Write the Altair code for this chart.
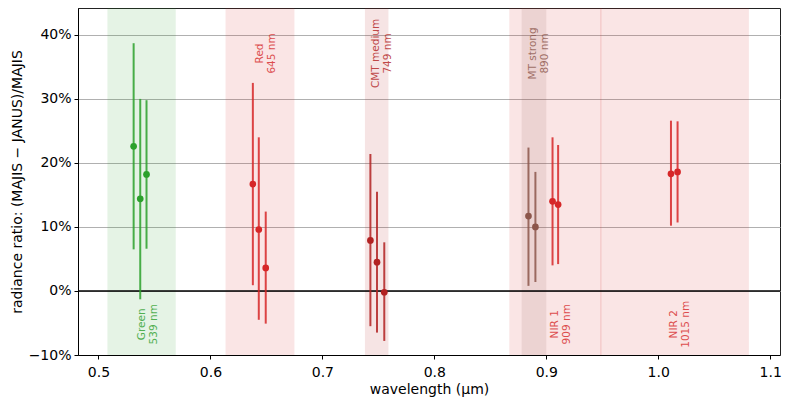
import altair as alt
import pandas as pd

# ---- data ----
green_x = [0.5314, 0.5373, 0.5429]
green_y = [0.226, 0.144, 0.182]
green_lo = [0.065, -0.013, 0.066]
green_hi = [0.387, 0.300, 0.298]

red_x = [0.6379, 0.6432, 0.6494]
red_y = [0.167, 0.096, 0.036]
red_lo = [0.009, -0.045, -0.051]
red_hi = [0.325, 0.240, 0.124]

cmt_x = [0.7429, 0.7488, 0.7553]
cmt_y = [0.079, 0.045, -0.002]
cmt_lo = [-0.055, -0.065, -0.078]
cmt_hi = [0.214, 0.155, 0.076]

mt_x = [0.8841, 0.8903]
mt_y = [0.117, 0.100]
mt_lo = [0.008, 0.014]
mt_hi = [0.224, 0.186]

nir1_x = [0.9056, 0.9106]
nir1_y = [0.140, 0.135]
nir1_lo = [0.040, 0.042]
nir1_hi = [0.240, 0.228]

nir2_x = [1.0114, 1.0173]
nir2_y = [0.183, 0.186]
nir2_lo = [0.102, 0.107]
nir2_hi = [0.266, 0.265]

GREEN = "#2ca02c"
RED = "#d62728"
CMT = "#b22222"
MT = "#8c564b"

band_names = ["Green", "Red", "CMT medium", "NIR 1", "NIR 2", "MT strong"]
band_lo = [0.508, 0.6135, 0.738, 0.867, 0.948, 0.878]
band_hi = [0.569, 0.675, 0.759, 0.9495, 1.081, 0.900]
band_colors = [GREEN, RED, CMT, RED, RED, MT]

label_text = ["Green\n539 nm", "Red\n645 nm", "CMT medium\n749 nm",
              "MT strong\n890 nm", "NIR 1\n909 nm", "NIR 2\n1015 nm"]
label_x = [0.539, 0.644, 0.748, 0.888, 0.908, 1.014]
label_y = [-0.052, 0.371, 0.371, 0.371, -0.052, -0.052]
label_colors = [GREEN, RED, CMT, MT, RED, RED]

x_ticks = [0.5, 0.6, 0.7, 0.8, 0.9, 1.0, 1.1]
y_ticks = [-0.1, 0.0, 0.1, 0.2, 0.3, 0.4]

# ---- tables ----
rows = []
for col, xs, ys, los, his in [
    (GREEN, green_x, green_y, green_lo, green_hi),
    (RED, red_x, red_y, red_lo, red_hi),
    (CMT, cmt_x, cmt_y, cmt_lo, cmt_hi),
    (MT, mt_x, mt_y, mt_lo, mt_hi),
    (RED, nir1_x, nir1_y, nir1_lo, nir1_hi),
    (RED, nir2_x, nir2_y, nir2_lo, nir2_hi),
]:
    for x, y, lo, hi in zip(xs, ys, los, his):
        rows.append(dict(x=x, y=y, lo=lo, hi=hi, color=col))
pts = pd.DataFrame(rows)
bands = pd.DataFrame(dict(name=band_names, lo=band_lo, hi=band_hi, color=band_colors))
labels = pd.DataFrame(dict(text=label_text, x=label_x, y=label_y, color=label_colors))
zero = pd.DataFrame(dict(v=[0.0]))

W, H = 702, 347
xscale = alt.Scale(domain=[0.4817, 1.1088], nice=False, zero=False)
yscale = alt.Scale(domain=[-0.10, 0.442], nice=False, zero=False)
xaxis = alt.Axis(title="wavelength (μm)", values=x_ticks, format=".1f", grid=False,
                 tickSize=4, labelPadding=6, titlePadding=3)
yaxis = alt.Axis(title="radiance ratio: (MAJIS − JANUS)/MAJIS", values=y_ticks,
                 format=".0%", grid=True, gridColor="#b0b0b0", gridWidth=1,
                 tickSize=4, labelPadding=3, titlePadding=4)

band_layer = alt.Chart(bands).mark_rect(opacity=0.12).encode(
    x=alt.X("lo:Q", scale=xscale, axis=xaxis),
    x2="hi:Q",
    y=alt.value(0),
    y2=alt.value(H),
    color=alt.Color("color:N", scale=None),
)

zero_layer = alt.Chart(zero).mark_rule(color="black", strokeWidth=1.5).encode(
    y=alt.Y("v:Q", scale=yscale, axis=yaxis),
)

err_layer = alt.Chart(pts).mark_rule(strokeWidth=2, opacity=0.85).encode(
    x=alt.X("x:Q", scale=xscale, axis=xaxis),
    y=alt.Y("lo:Q", scale=yscale, axis=yaxis),
    y2="hi:Q",
    color=alt.Color("color:N", scale=None),
)

pt_layer = alt.Chart(pts).mark_circle(size=45, opacity=1).encode(
    x=alt.X("x:Q", scale=xscale, axis=xaxis),
    y=alt.Y("y:Q", scale=yscale, axis=yaxis),
    color=alt.Color("color:N", scale=None),
)

txt_layer = alt.Chart(labels).mark_text(
    angle=270, align="center", baseline="middle", lineBreak="\n",
    fontSize=10.5, lineHeight=12, font="DejaVu Sans", opacity=0.8,
).encode(
    x=alt.X("x:Q", scale=xscale, axis=xaxis),
    y=alt.Y("y:Q", scale=yscale, axis=yaxis),
    text="text:N",
    color=alt.Color("color:N", scale=None),
)

chart = alt.layer(band_layer, zero_layer, err_layer, pt_layer, txt_layer).properties(
    width=W, height=H,
    autosize=alt.AutoSizeParams(type="none"),
    padding={"left": 70, "top": 0, "right": 5, "bottom": 45},
    background="white",
).configure_view(
    stroke="#222222", strokeWidth=1,
).configure_axis(
    domainColor="black", tickColor="black", labelColor="black", titleColor="black",
    labelFont="DejaVu Sans", titleFont="DejaVu Sans", labelFontSize=14,
    titleFontSize=14, titleFontWeight="normal",
)

chart.save("out.html", embed_options={"renderer": "svg", "actions": False})
